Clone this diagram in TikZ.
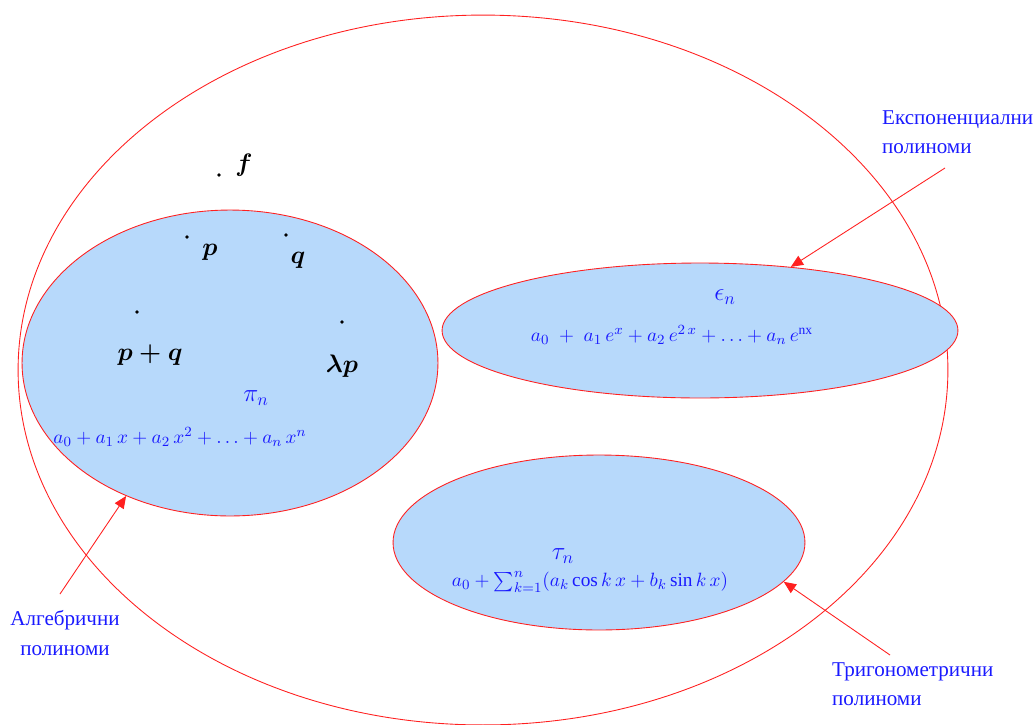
\documentclass[tikz,border=0pt]{standalone}
\usepackage{amsmath}
\usepackage{fontspec}
\setmainfont{Liberation Serif}
\usetikzlibrary{arrows.meta,shapes.geometric}
\definecolor{setred}{HTML}{FF2020}
\definecolor{setfill}{HTML}{B7D9FB}
\definecolor{labelblue}{HTML}{1A1AFF}

\tikzset{
  setline/.style={draw=setred,line width=.5pt},
  subset/.style={ellipse,setline,fill=setfill,inner sep=0pt},
  pointer/.style={setred,line width=.5pt,-{Triangle[length=7pt,width=6pt]}},
  setname/.style={labelblue,font=\fontsize{12}{17}\selectfont},
  elem/.style={font=\fontsize{14}{16}\selectfont},
  ptdot/.style={circle,fill=black,inner sep=0pt,minimum size=2.2pt},
  formula/.style={labelblue,font=\fontsize{11}{13}\selectfont}
}

\begin{document}
\begin{tikzpicture}[x=0.02cm,y=-0.02cm]
  \useasboundingbox (0,0) rectangle (1035,724);

  % the whole space
  \node[ellipse,setline,minimum width=18.6cm,minimum height=14.2cm,inner sep=0pt]
    (space) at (483,370) {};

  % the three subspaces
  \node[subset,minimum width=8.32cm,minimum height=6.12cm] (alg) at (230,363) {};
  \node[subset,minimum width=10.32cm,minimum height=2.7cm] (exp) at (700,330.5) {};
  \node[subset,minimum width=8.24cm,minimum height=3.5cm] (trig) at (599,542.5) {};

  % elements
  \node[ptdot] (fdot) at (219,175) {};
  \node[elem] (f) at (244,165) {$\boldsymbol{f}$};
  \node[ptdot] (pdot) at (187,237) {};
  \node[elem] (p) at (210,252) {$\boldsymbol{p}$};
  \node[ptdot] (qdot) at (286,235) {};
  \node[elem] (q) at (298,260) {$\boldsymbol{q}$};
  \node[ptdot] (sumdot) at (137,312) {};
  \node[elem] (pq) at (150,355) {$\boldsymbol{p+q}$};
  \node[ptdot] (muldot) at (342,322) {};
  \node[elem] (lp) at (342,366) {$\boldsymbol{\lambda p}$};

  % formulas
  \node[labelblue,font=\fontsize{14}{16}\selectfont] (pin) at (256,398) {$\pi_n$};
  \node[formula] (pinf) at (180,437) {$a_0+a_1\,x+a_2\,x^2+\ldots+a_n\,x^n$};
  \node[labelblue,font=\fontsize{14}{16}\selectfont] (epn) at (725,297) {$\epsilon_n$};
  \node[formula] (epnf) at (672,335)
    {$a_0\;+\;a_1\,e^x+a_2\,e^{2\,x}+\ldots+a_n\,e^{\mathrm{nx}}$};
  \node[labelblue,font=\fontsize{14}{16}\selectfont] (tan) at (563,556) {$\tau_n$};
  \node[formula] (tanf) at (590,582)
    {$a_0+\sum_{k=1}^{n}(a_k\cos k\,x+b_k\sin k\,x)$};

  % names of the subspaces
  \node[setname,align=left,anchor=north west] (expname) at (876,104)
    {Експоненциални\\полиноми};
  \node[setname,align=center] (algname) at (65,633) {Алгебрични\\полиноми};
  \node[setname,align=left,anchor=north west] (trigname) at (826,656)
    {Тригонометрични\\полиноми};

  \coordinate (exptail) at (945,168);
  \coordinate (algtail) at (60,594);
  \coordinate (trigtail) at (890,655);

  \draw[pointer] (exptail) -- (exp.35);
  \draw[pointer] (algtail) -- (alg.232.5);
  \draw[pointer] (trigtail) -- (trig.-12);
\end{tikzpicture}
\end{document}
